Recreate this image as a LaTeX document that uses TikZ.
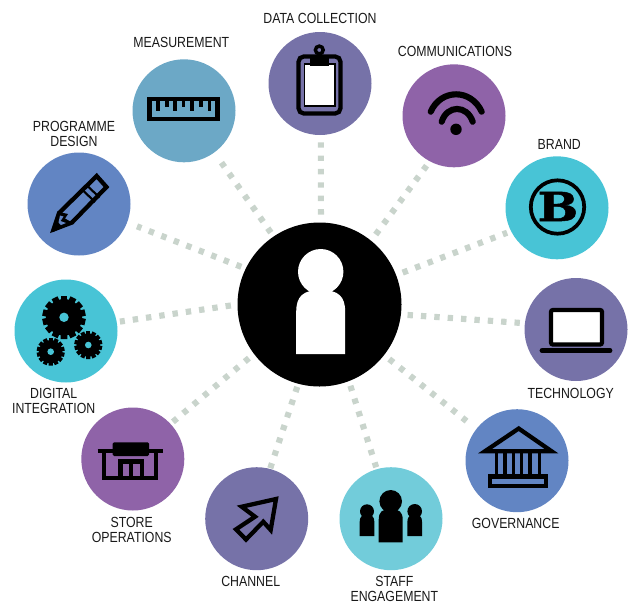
\documentclass[tikz,border=0pt]{standalone}
\usepackage{fontspec}
\setmainfont[FakeStretch=0.84]{Liberation Sans}
\newfontfamily\brandfont[BoldFeatures={FakeBold=1.2,FakeStretch=1.2}]{DejaVu Serif}
\usetikzlibrary{positioning}
\definecolor{tealdark}{HTML}{48C4D6}
\definecolor{teallight}{HTML}{72CCDA}
\definecolor{steelblue}{HTML}{6CA8C6}
\definecolor{royalblue}{HTML}{6285C3}
\definecolor{slatepurple}{HTML}{7672A8}
\definecolor{plum}{HTML}{8F63A8}
\definecolor{dotgrey}{HTML}{C9D4CC}
\tikzstyle{spoke} = [circle, inner sep=0pt, outer sep=0pt, minimum size=77.25pt]
\tikzstyle{hubdisc} = [circle, fill=black, inner sep=0pt, outer sep=0pt, minimum size=123pt]
\tikzstyle{caption} = [inner sep=0pt, align=center, text=black!90, font=\fontsize{11}{10.7}\selectfont]
\tikzstyle{link} = [draw=dotgrey, line width=4.6pt, dash pattern=on 4.05pt off 6pt]
\tikzstyle{iconline} = [draw=black, line width=3.2pt]
% cx, head y, head radius, half width, shoulder y, bottom y, colour
\newcommand{\personicon}[7]{
    \fill[#7] (#1,#2) circle (#3);
    \fill[#7] (#1-#4,#6) -- (#1-#4,#5+#4*0.9) .. controls (#1-#4,#5+#4*0.25) and (#1-#4*0.72,#5) .. (#1,#5)
        .. controls (#1+#4*0.72,#5) and (#1+#4,#5+#4*0.25) .. (#1+#4,#5+#4*0.9) -- (#1+#4,#6) -- cycle;
}
% cx, cy, outer radius, hole radius
\newcommand{\gearicon}[4]{
    \fill[black] (#1,#2) circle (#3*0.84);
    \foreach \a in {0,25.714,...,340} {
        \fill[black, rotate around={\a:(#1,#2)}] (#1-#3*0.15,#2-#3) rectangle (#1+#3*0.15,#2);
    }
    \fill[tealdark] (#1,#2) circle (#4);
}

\begin{document}
\begin{tikzpicture}[x=0.75pt, y=-0.75pt, node distance=50pt]
    \useasboundingbox (0,0) rectangle (630,604);

    % Hub and spokes
    \node (hub) [hubdisc] at (319.5,304.5) {};
    \node (data) [spoke, fill=slatepurple] at (320,83.5) {};
    \node (measurement) [spoke, fill=steelblue] at (184,110.8) {};
    \node (programme) [spoke, fill=royalblue] at (79,204) {};
    \node (comms) [spoke, fill=plum] at (454,115.8) {};
    \node (brand) [spoke, fill=tealdark] at (557,207.8) {};
    \node (technology) [spoke, fill=slatepurple] at (576,329.5) {};
    \node (governance) [spoke, fill=royalblue] at (517,460.7) {};
    \node (staff) [spoke, fill=teallight] at (391,518.7) {};
    \node (channel) [spoke, fill=slatepurple] at (256.7,518.7) {};
    \node (store) [spoke, fill=plum] at (132.8,459) {};
    \node (digital) [spoke, fill=tealdark] at (66,331) {};

    % Labels
    \node (data_label) [caption, above of=data, yshift=-0.9pt] {DATA COLLECTION};
    \node (measurement_label) [caption, above of=measurement, xshift=-2pt, yshift=1.1pt] {MEASUREMENT};
    \node (programme_label) [caption, above of=programme, xshift=-3.75pt, yshift=2.6pt] {PROGRAMME\\DESIGN};
    \node (comms_label) [caption, above of=comms, xshift=0.75pt, yshift=-1.4pt] {COMMUNICATIONS};
    \node (brand_label) [caption, above of=brand, xshift=1.7pt, yshift=-2.15pt] {BRAND};
    \node (technology_label) [caption, below of=technology, xshift=-4pt, yshift=1.85pt] {TECHNOLOGY};
    \node (governance_label) [caption, below of=governance, xshift=-1pt, yshift=2.75pt] {GOVERNANCE};
    \node (staff_label) [caption, below of=staff, xshift=2.5pt, yshift=-2.6pt] {STAFF\\ENGAGEMENT};
    \node (channel_label) [caption, below of=channel, xshift=-4.5pt, yshift=2.75pt] {CHANNEL};
    \node (store_label) [caption, below of=store, xshift=-0.8pt, yshift=-3.25pt] {STORE\\OPERATIONS};
    \node (digital_label) [caption, below of=digital, xshift=-9.2pt, yshift=-2.4pt] {DIGITAL\\INTEGRATION};

    % ==== Connectors
    \draw [link, shorten <=6pt, shorten >=5.6pt] (hub.89.4) -- (data.-89.5);
    \draw [link, shorten <=3.6pt, shorten >=9.3pt] (hub.124.2) -- (measurement.-54.3);
    \draw [link, shorten <=3.6pt, shorten >=8pt] (hub.154.3) -- (programme.-21.8);
    \draw [link, shorten <=5.8pt, shorten >=4.1pt] (hub.51.2) -- (comms.-118.1);
    \draw [link, shorten <=5.3pt, shorten >=3.2pt] (hub.21) -- (brand.-153.3);
    \draw [link, shorten <=5pt, shorten >=3.8pt] (hub.-7.1) -- (technology.173.4);
    \draw [link, shorten <=4.9pt, shorten >=9.5pt] (hub.-38.6) -- (governance.142.3);
    \draw [link, shorten <=3.7pt, shorten >=1.5pt] (hub.-69.6) -- (staff.106.6);
    \draw [link, shorten <=2.5pt, shorten >=0.6pt] (hub.-105) -- (channel.75.2);
    \draw [link, shorten <=5pt, shorten >=2.4pt] (hub.-143) -- (store.43.9);
    \draw [link, shorten <=5pt, shorten >=2.4pt] (hub.180) -- (digital.10.4);

    % ==== Icons
    % Hub figure
    \personicon{320.7}{271.7}{22.7}{24.5}{290}{354}{white}

    % Clipboard
    \draw [iconline, rounded corners=4pt] (298.5,56.5) rectangle (340.5,113.5);
    \draw [draw=black, line width=1.2pt, fill=white] (304.5,64) rectangle (335,106);
    \fill (310,57.3) rectangle (329,66);
    \draw [draw=black, line width=2.6pt] (319.3,50) circle (3.9);

    % Ruler
    \draw [iconline] (149.5,99) rectangle (217.5,119);
    \foreach \tickx/\ticky in {158/111,166.7/107,175/111,183.5/107,192/111,201/107,209.5/111} {
        \draw [iconline, line width=2.8pt] (\tickx,99) -- (\tickx,\ticky);
    }

    % Pencil
    \draw [iconline, line join=miter, fill=royalblue] (53.5,229.5) -- (59,213) -- (96.7,176) -- (106.5,187) -- (72,222.5) -- cycle;
    \draw [draw=black, line width=1.6pt] (82.5,190) -- (95,202);
    \draw [draw=black, line width=1.6pt] (87,185.5) -- (99.5,197.5);
    \fill (59,212) -- (68,214) -- (65,218.5) -- (73,223) -- (53,232) -- cycle;
    \fill [royalblue] (60,215.5) -- (63.5,216.5) -- (60.5,221) -- (66,223) -- (61,225) -- (58.5,222.5) -- cycle;

    % Wifi
    \fill (456,129.3) circle (5.7);
    \draw [black, line width=4.6pt, line cap=round] (430.7,111.7) .. controls (441,88.5) and (471,88.5) .. (481.7,111.7);
    \draw [black, line width=4.6pt, line cap=round] (441.7,121.7) .. controls (447,104.7) and (467,104.7) .. (472.7,121.7);

    % Brand badge
    \draw [draw=black, line width=2.8pt] (557.5,207) circle (26.7);
    \node (brand_b) [inner sep=0pt, font=\brandfont\bfseries\fontsize{30}{30}\selectfont] at (558,206.5) {B};

    % Laptop
    \draw [iconline, fill=white, rounded corners=1.5pt] (551,310) rectangle (602,344.5);
    \draw [black, line width=3.6pt, line cap=round] (542,350.7) -- (610,350.7);

    % Temple
    \draw [iconline, line join=miter] (485,451.2) -- (518.7,428.5) -- (551.5,451.2) -- cycle;
    \foreach \colx in {496.7,505,513.5,521.7,530,539.3} {
        \draw [iconline, line width=2.6pt] (\colx,452) -- (\colx,476);
    }
    \draw [iconline] (490,476.5) rectangle (546,485.8);

    % Staff group
    \personicon{390.7}{501.3}{11.3}{12}{509}{542.3}{black}
    \personicon{367}{511.3}{7}{7.3}{515}{536}{black}
    \personicon{414.7}{511.3}{7.3}{7.3}{515}{536}{black}

    % Arrow
    \draw [iconline, line join=miter] (276,499) -- (241.7,506.7) -- (255,516.7) -- (236,529.3) -- (246,539.5) -- (263.3,521.7) -- (270.7,530) -- cycle;

    % Shop
    \draw [iconline] (103.8,452) -- (103.8,477.7) -- (156.2,477.7) -- (156.2,452);
    \draw [iconline] (97.7,451) -- (163.3,451);
    \fill [rounded corners=1pt] (112.7,442.3) rectangle (149,456);
    \draw [iconline] (120.5,477.7) -- (120.5,461.5) -- (141.7,461.5) -- (141.7,477.7);
    \draw [iconline] (131,461.5) -- (131,477.7);

    % Gears
    \gearicon{64}{317.3}{21.7}{4.7}
    \gearicon{50.7}{351.7}{14}{3.3}
    \gearicon{88.3}{345}{14}{3.3}

\end{tikzpicture}
\end{document}
